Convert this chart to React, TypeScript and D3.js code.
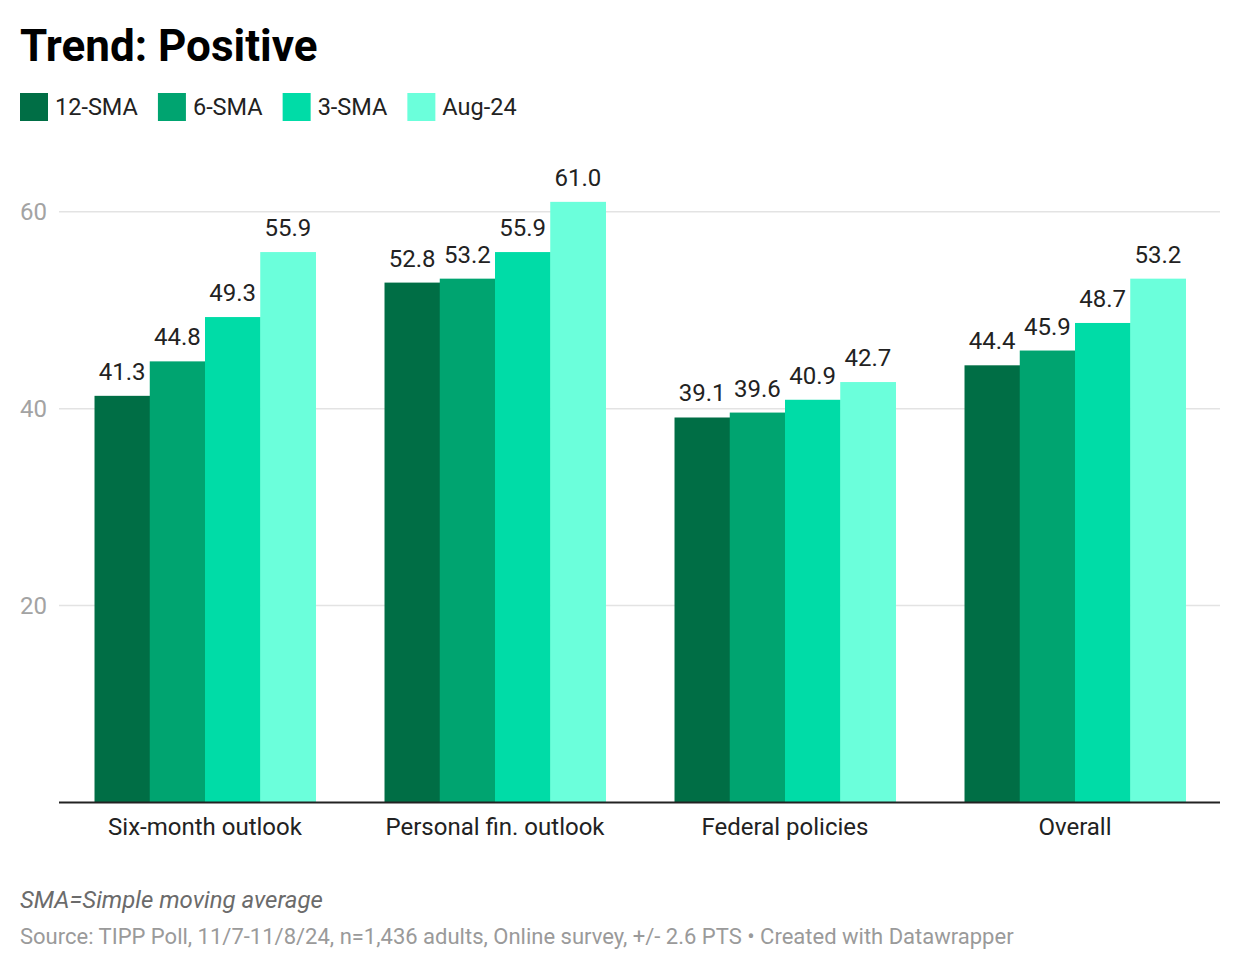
// @ts-nocheck
import { useEffect, useRef } from 'react';
import * as d3 from 'd3';

const categories = ['Six-month outlook', 'Personal fin. outlook', 'Federal policies', 'Overall'];
const seriesNames = ['12-SMA', '6-SMA', '3-SMA', 'Aug-24'];
const sma12 = [41.3, 52.8, 39.1, 44.4];
const sma6 = [44.8, 53.2, 39.6, 45.9];
const sma3 = [49.3, 55.9, 40.9, 48.7];
const aug24 = [55.9, 61.0, 42.7, 53.2];
const yTicks = [20, 40, 60];
const colors = ['#006e45', '#00a470', '#00dca7', '#6bffdb'];

const W = 1240;
const H = 972;
const FONT = 'Roboto, "Noto Sans", sans-serif';

const App = () => {
  const svgRef = useRef();

  useEffect(() => {
    const svg = d3.select(svgRef.current);
    svg.selectAll('*').remove();

    const values = [sma12, sma6, sma3, aug24];
    const rows = categories.map((c, i) => ({
      category: c,
      vals: seriesNames.map((s, j) => ({ series: s, value: values[j][i] }))
    }));

    // Title
    svg
      .append('text')
      .attr('x', 20)
      .attr('y', 61)
      .style('font-family', FONT)
      .style('font-size', '44px')
      .style('font-weight', 'bold')
      .attr('fill', '#000')
      .text('Trend: Positive');

    // Legend
    let lx = 20;
    seriesNames.forEach((s, i) => {
      const g = svg.append('g').attr('transform', `translate(${lx},93)`);
      g.append('rect').attr('width', 28).attr('height', 28).attr('fill', colors[i]);
      const t = g
        .append('text')
        .attr('x', 35)
        .attr('y', 22)
        .style('font-family', FONT)
        .style('font-size', '23.5px')
        .attr('fill', '#222')
        .text(s);
      lx += 35 + t.node().getComputedTextLength() + 20;
    });

    const x0 = d3.scaleBand().domain(categories).range([60, 1220]).paddingInner(0.238).paddingOuter(0.119);
    const x1 = d3.scaleBand().domain(seriesNames).range([0, x0.bandwidth()]);
    const y = d3.scaleLinear().domain([0, 60]).range([802.5, 211.7]);

    // Gridlines + ticks
    const grid = svg.append('g');
    yTicks.forEach(t => {
      grid
        .append('line')
        .attr('x1', 59)
        .attr('x2', 1220)
        .attr('y1', y(t))
        .attr('y2', y(t))
        .attr('stroke', '#e3e3e3')
        .attr('stroke-width', 1.5);
      grid
        .append('text')
        .attr('x', 47)
        .attr('y', y(t) + 8.5)
        .attr('text-anchor', 'end')
        .style('font-family', FONT)
        .style('font-size', '24px')
        .attr('fill', '#a3a3a3')
        .text(t);
    });

    // Bars
    const groups = svg
      .selectAll('g.grp')
      .data(rows)
      .enter()
      .append('g')
      .attr('class', 'grp')
      .attr('transform', d => `translate(${x0(d.category)},0)`);

    groups
      .selectAll('rect')
      .data(d => d.vals)
      .enter()
      .append('rect')
      .attr('x', d => x1(d.series))
      .attr('width', x1.bandwidth() + 0.5)
      .attr('y', d => y(d.value))
      .attr('height', d => y(0) - y(d.value))
      .attr('fill', (d, i) => colors[i]);

    groups
      .selectAll('text.val')
      .data(d => d.vals)
      .enter()
      .append('text')
      .attr('class', 'val')
      .attr('x', d => x1(d.series) + x1.bandwidth() / 2)
      .attr('y', d => y(d.value) - 16)
      .attr('text-anchor', 'middle')
      .style('font-family', FONT)
      .style('font-size', '24px')
      .attr('fill', '#222')
      .text(d => d.value.toFixed(1));

    // Baseline
    svg
      .append('line')
      .attr('x1', 59)
      .attr('x2', 1220)
      .attr('y1', y(0))
      .attr('y2', y(0))
      .attr('stroke', '#222')
      .attr('stroke-width', 2);

    // Category labels
    svg
      .selectAll('text.cat')
      .data(categories)
      .enter()
      .append('text')
      .attr('class', 'cat')
      .attr('x', d => x0(d) + x0.bandwidth() / 2)
      .attr('y', 835)
      .attr('text-anchor', 'middle')
      .style('font-family', FONT)
      .style('font-size', '24px')
      .attr('fill', '#222')
      .text(d => d);

    // Notes
    svg
      .append('text')
      .attr('x', 20)
      .attr('y', 908)
      .style('font-family', FONT)
      .style('font-size', '24px')
      .style('font-style', 'italic')
      .attr('fill', '#6b6b6b')
      .text('SMA=Simple moving average');

    svg
      .append('text')
      .attr('x', 20)
      .attr('y', 944)
      .style('font-family', FONT)
      .style('font-size', '22px')
      .attr('fill', '#9a9a9a')
      .text('Source: TIPP Poll, 11/7-11/8/24, n=1,436 adults, Online survey, +/- 2.6 PTS \u2022 Created with Datawrapper');
  }, []);

  return (
    <svg
      ref={svgRef}
      width={W}
      height={H}
      style={{ position: 'absolute', left: 0, top: 0, background: '#fff' }}
    ></svg>
  );
};

export default App;
